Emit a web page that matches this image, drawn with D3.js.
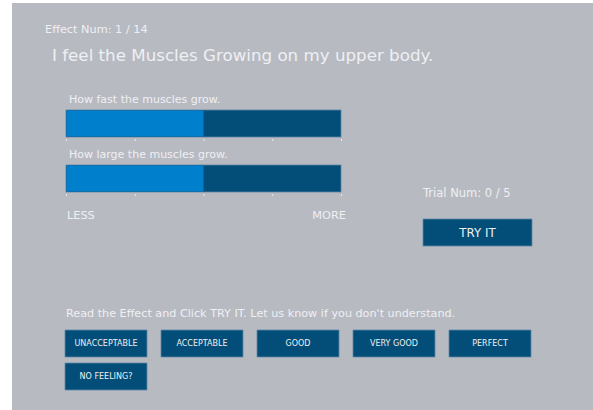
<!doctype html>
<html>
<head>
    <meta charset="utf-8">
    <title>Effect rating</title>
    <script src="https://cdn.jsdelivr.net/npm/d3@7"></script>
    <style>
        body { margin: 0; background: #fff; }
        svg text { font-family: "DejaVu Sans", Verdana, sans-serif; fill: #eef0f3; }
    </style>
</head>
<body>
<svg id="chart" width="593" height="410"></svg>
<script>
// values
var effectNum = 1, effectTotal = 14;
var trialNum = 0, trialTotal = 5;
var title = "I feel the Muscles Growing on my upper body.";
var sliderLabels = ["How fast the muscles grow.", "How large the muscles grow."];
var sliderValues = [0.5, 0.5];
var tickValues = [0, 0.25, 0.5, 0.75, 1];
var endLabels = ["LESS", "MORE"];
var instruction = "Read the Effect and Click TRY IT. Let us know if you don't understand.";
var ratingButtons = ["UNACCEPTABLE", "ACCEPTABLE", "GOOD", "VERY GOOD", "PERFECT", "NO FEELING?"];

var svg = d3.select('#chart');

svg.append('rect')
    .attr('x', 12).attr('y', 3)
    .attr('width', 581).attr('height', 407)
    .attr('fill', '#b8bac2');

svg.append('text')
    .attr('x', 45).attr('y', 33)
    .style('font-size', '11.3px')
    .text('Effect Num: ' + effectNum + ' / ' + effectTotal);

svg.append('text')
    .attr('x', 52).attr('y', 61)
    .style('font-size', '16.7px')
    .text(title);

// slider scale
var x = d3.scaleLinear().domain([0, 1]).range([66, 341]);
var barH = 27;

var sliders = svg.selectAll('.slider')
    .data(sliderLabels)
    .enter()
    .append('g')
    .attr('class', 'slider')
    .attr('transform', function(d, i){ return 'translate(0,' + (110 + i * 55) + ')'; });

sliders.append('text')
    .attr('x', 69).attr('y', -7)
    .style('font-size', '11px')
    .text(function(d){ return d; });

sliders.append('rect')
    .attr('x', x(0)).attr('y', 0)
    .attr('width', x(1) - x(0)).attr('height', barH)
    .attr('fill', '#034e78')
    .attr('stroke', '#5a86a6').attr('stroke-width', 0.8);

sliders.append('rect')
    .attr('x', x(0) + 0.5).attr('y', 0.5)
    .attr('width', function(d, i){ return x(sliderValues[i]) - x(0) - 0.5; })
    .attr('height', barH - 1)
    .attr('fill', '#0080cc');

sliders.each(function(){
    var axis = d3.axisBottom(x).tickValues(tickValues).tickSize(2).tickFormat('');
    var g = d3.select(this).append('g')
        .attr('transform', 'translate(0,' + (barH + 2) + ')')
        .call(axis);
    g.select('.domain').remove();
    g.selectAll('.tick line').attr('stroke', '#e8eaee');
});

svg.append('text')
    .attr('x', 67).attr('y', 219)
    .style('font-size', '11.3px')
    .text(endLabels[0]);

svg.append('text')
    .attr('x', 346).attr('y', 219)
    .attr('text-anchor', 'end')
    .style('font-size', '11.3px')
    .text(endLabels[1]);

svg.append('text')
    .attr('x', 423).attr('y', 197)
    .style('font-size', '11.5px')
    .text('Trial Num: ' + trialNum + ' / ' + trialTotal);

function button(sel, bx, by, w, h, label, size){
    var g = sel.append('g').attr('transform', 'translate(' + bx + ',' + by + ')');
    g.append('rect')
        .attr('width', w).attr('height', h)
        .attr('fill', '#034e78')
        .attr('stroke', '#5f88a6').attr('stroke-width', 0.8);
    g.append('text')
        .attr('x', w / 2).attr('y', h / 2)
        .attr('dy', '0.36em')
        .attr('text-anchor', 'middle')
        .style('font-size', size)
        .text(label);
}

button(svg, 423, 219, 109, 27, 'TRY IT', '11.8px');

svg.append('text')
    .attr('x', 66).attr('y', 317)
    .style('font-size', '11.2px')
    .text(instruction);

ratingButtons.forEach(function(d, i){
    var col = i % 5, row = Math.floor(i / 5);
    button(svg, 65 + col * 96, 330 + row * 33, 82, 27, d, '8px');
});
</script>
</body>
</html>
